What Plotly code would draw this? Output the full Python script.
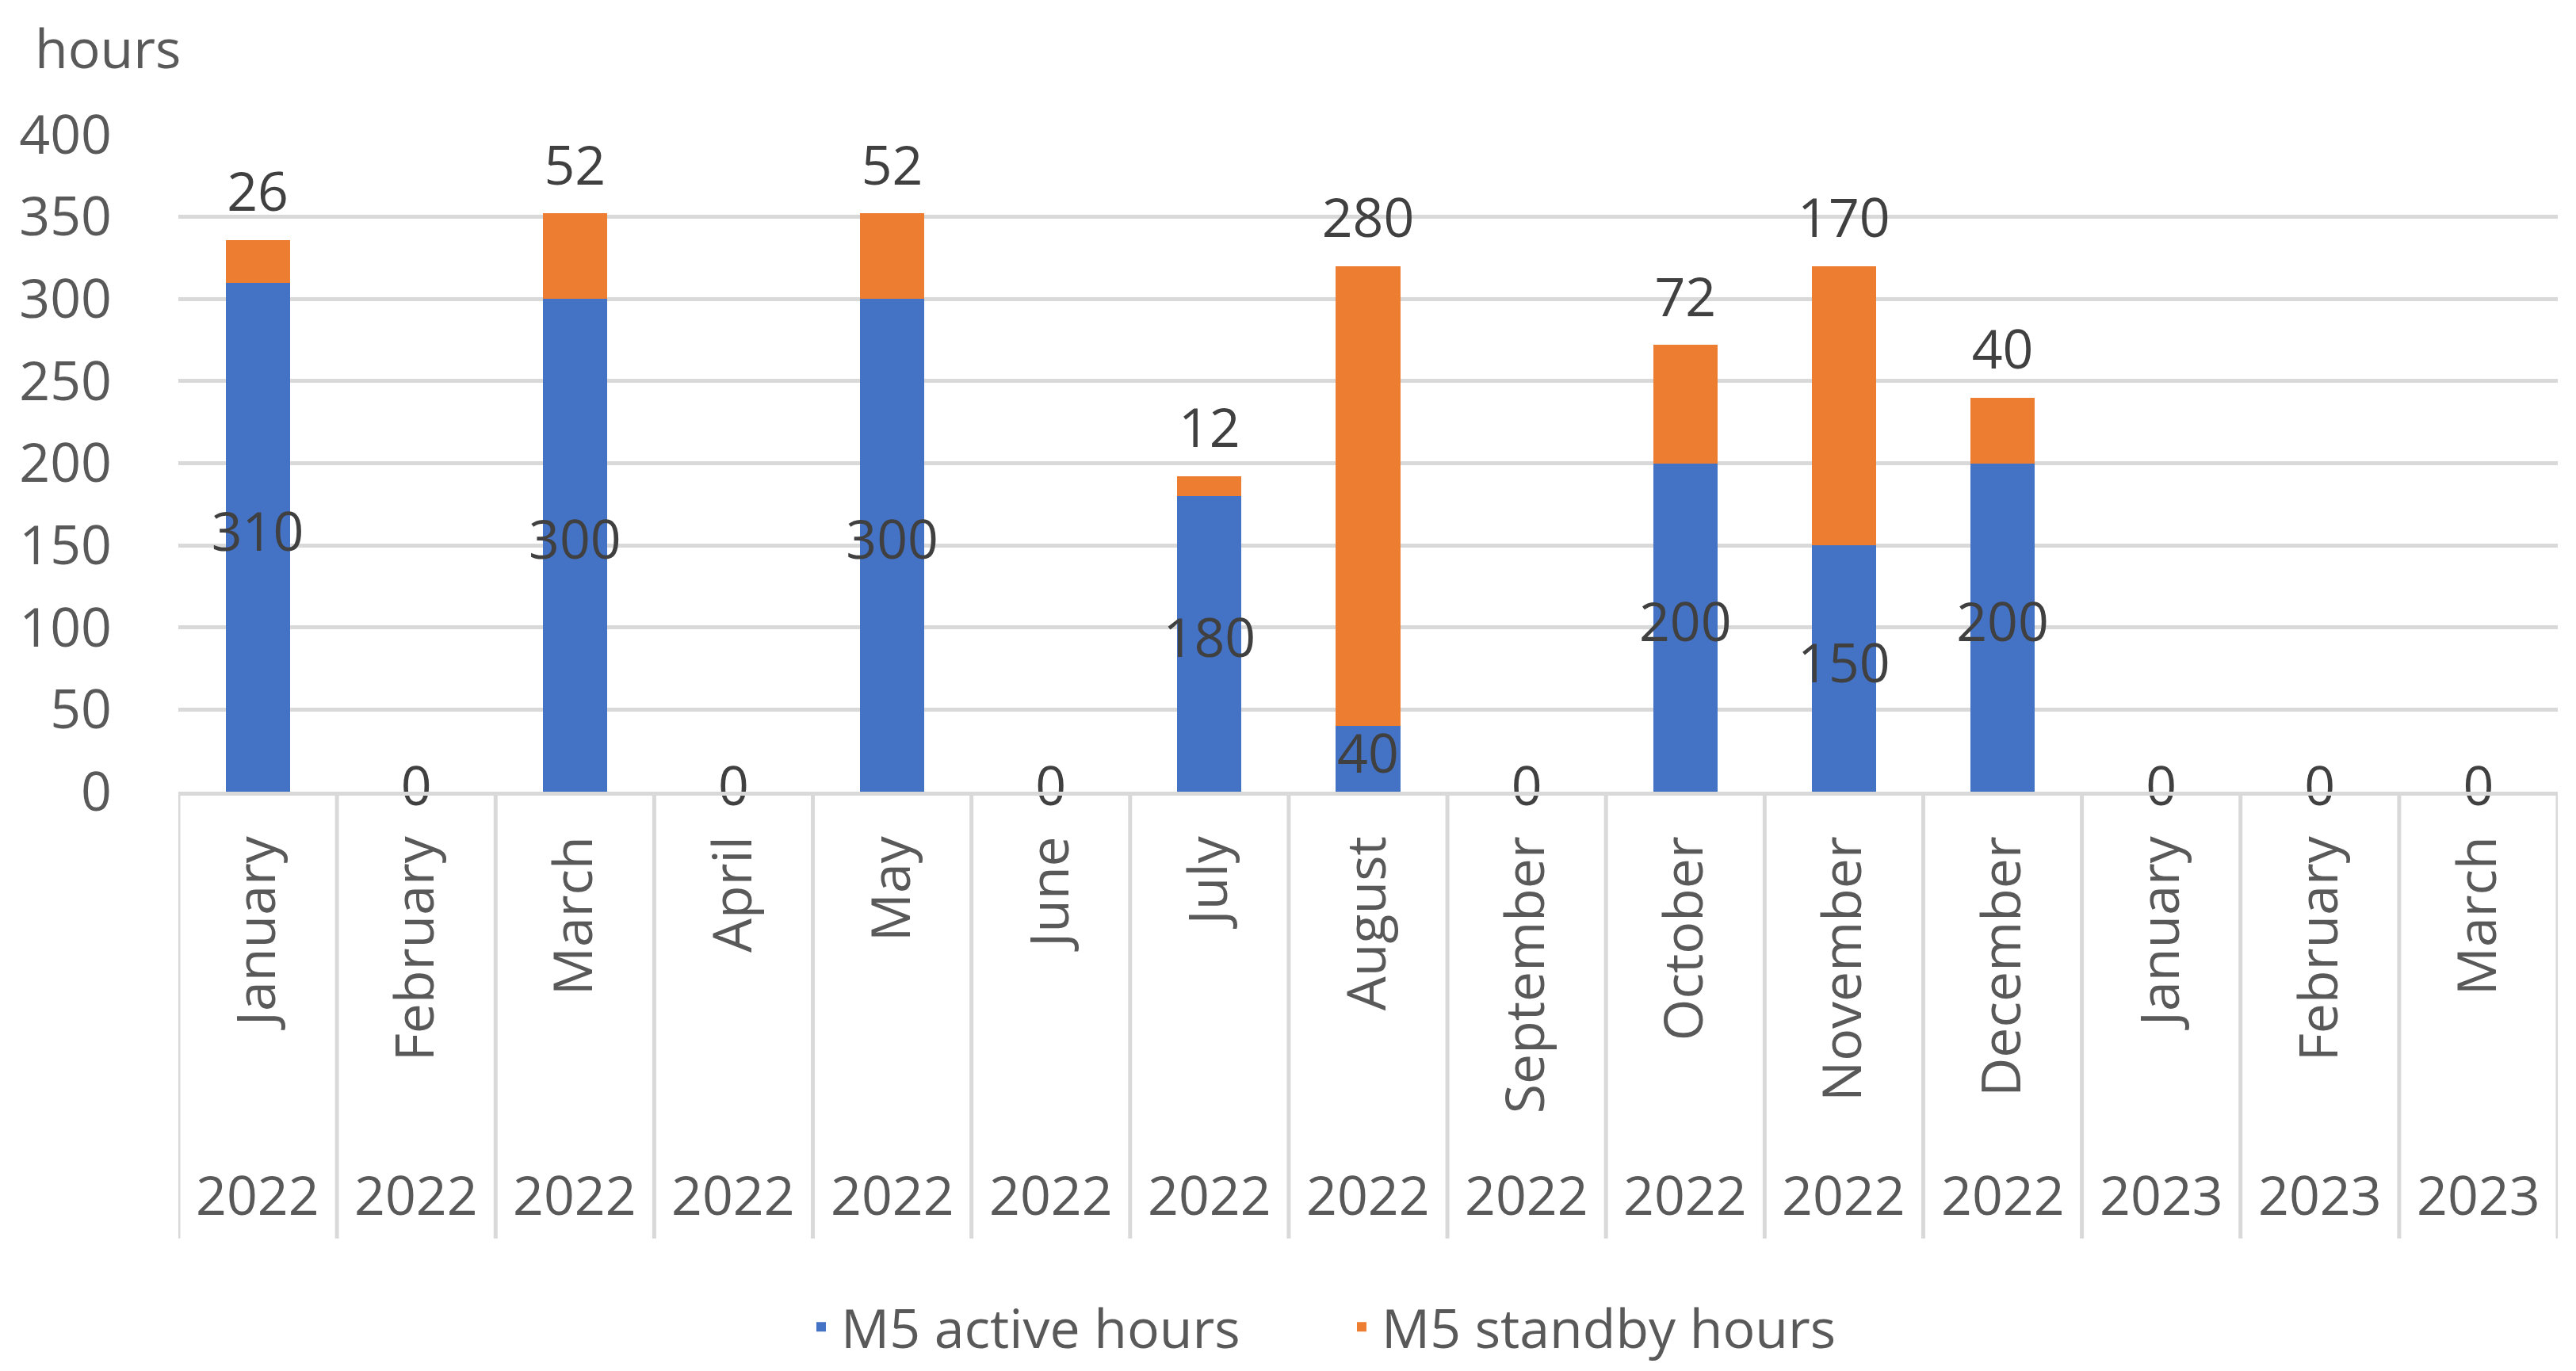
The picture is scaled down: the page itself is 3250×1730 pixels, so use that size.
import plotly.graph_objects as go

months = ["January", "February", "March", "April", "May", "June", "July", "August",
          "September", "October", "November", "December", "January", "February", "March"]
years = ["2022"] * 12 + ["2023"] * 3
active_hours = [310, 0, 300, 0, 300, 0, 180, 40, 0, 200, 150, 200, 0, 0, 0]
standby_hours = [26, 0, 52, 0, 52, 0, 12, 280, 0, 72, 170, 40, 0, 0, 0]
y_ticks = [0, 50, 100, 150, 200, 250, 300, 350, 400]

cats = [f"{y} {m}" for y, m in zip(years, months)]
totals = [a + s for a, s in zip(active_hours, standby_hours)]

FONT = "Open Sans"
FS = 68
AXIS_C = "#595959"
LABEL_C = "#404040"
GRID_C = "#d9d9d9"
BLUE = "#4472C4"
ORANGE = "#ED7D31"

fig = go.Figure()
fig.add_trace(go.Bar(
    x=cats, y=active_hours, name="M5 active hours",
    marker=dict(color=BLUE, line=dict(width=0)), hoverinfo="x+y+name",
))
fig.add_trace(go.Bar(
    x=cats, y=standby_hours, name="M5 standby hours",
    marker=dict(color=ORANGE, line=dict(width=0)), hoverinfo="x+y+name",
))
# labels of the active series, centred in the blue segment
fig.add_trace(go.Scatter(
    x=cats, y=[v / 2 for v in active_hours], text=[str(v) for v in active_hours],
    mode="text", textposition="middle center", showlegend=False, hoverinfo="skip",
    textfont=dict(family=FONT, size=FS, color=LABEL_C), cliponaxis=False,
))
# labels of the standby series, above the stack
fig.add_trace(go.Scatter(
    x=cats, y=totals, text=[str(v) if v else "" for v in standby_hours],
    mode="markers+text", textposition="top center", showlegend=False, hoverinfo="skip",
    marker=dict(size=30, opacity=0),
    textfont=dict(family=FONT, size=FS, color=LABEL_C), cliponaxis=False,
))

fig.update_layout(
    width=3250, height=1730,
    margin=dict(l=217, r=31, t=162, b=733),
    paper_bgcolor="white", plot_bgcolor="white",
    barmode="stack", bargap=0.595,
    font=dict(family=FONT, size=FS, color=AXIS_C),
    showlegend=True,
    legend=dict(orientation="h", x=0.489, xanchor="center", y=-0.815, yanchor="middle",
                font=dict(family=FONT, size=FS, color=AXIS_C), traceorder="normal",
                entrywidth=627, entrywidthmode="pixels", itemwidth=40),
)
fig.update_yaxes(range=[0, 400], tickvals=y_ticks, showgrid=True, gridcolor=GRID_C, gridwidth=5,
                 zeroline=False, showline=False, ticks="", ticklabelstandoff=83,
                 tickfont=dict(family=FONT, size=FS, color=AXIS_C))
fig.update_xaxes(type="category", tickvals=cats, ticktext=months, tickangle=-90,
                 showline=True, linecolor=GRID_C, linewidth=5, ticks="", showgrid=False,
                 ticklabelstandoff=24, range=[-0.5, len(cats) - 0.5],
                 tickfont=dict(family=FONT, size=FS, color=AXIS_C))

# category separators below the axis
for i in range(len(cats) + 1):
    fig.add_shape(type="line", xref="x", yref="paper", x0=i - 0.5, x1=i - 0.5, y0=0, y1=-0.68,
                  line=dict(color=GRID_C, width=5))
# year labels (second level of the category axis)
for c, y in zip(cats, years):
    fig.add_annotation(x=c, xref="x", yref="paper", y=-0.612, yanchor="middle",
                       text=y, showarrow=False, font=dict(family=FONT, size=FS, color=AXIS_C))
# unit label
fig.add_annotation(xref="paper", yref="paper", x=-0.061, xanchor="left", y=1.192, yanchor="top",
                   text="hours", showarrow=False, font=dict(family=FONT, size=FS, color=AXIS_C))

fig.write_html("out.html")
